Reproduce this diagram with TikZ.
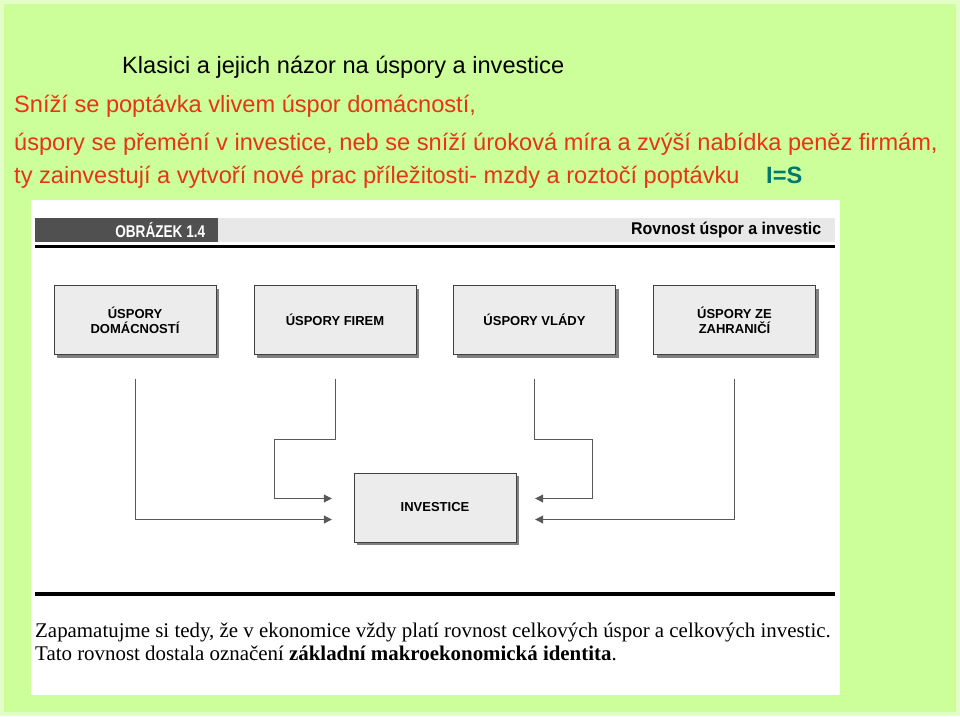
\documentclass[tikz,border=0pt]{standalone}
\usepackage{fontspec}
\setmainfont{Liberation Serif}
\setsansfont{Liberation Sans}
\usetikzlibrary{positioning, arrows.meta, calc, shadows}
\definecolor{SlGreen}{RGB}{204,255,153}
\definecolor{SlEdge}{RGB}{226,255,200}
\definecolor{SlRed}{RGB}{232,52,22}
\definecolor{SlTeal}{RGB}{0,120,110}
\definecolor{BxGray}{RGB}{236,236,236}
\definecolor{BdDark}{RGB}{80,80,80}
\definecolor{BdLight}{RGB}{232,232,232}

\begin{document}
\begin{tikzpicture}[x=1pt, y=1pt,
          sbox/.style={rectangle, draw=black!75, fill=BxGray, minimum width=162pt,
                       minimum height=69pt, inner sep=0pt, align=center,
                       font=\sffamily\bfseries\fontsize{13}{15}\selectfont,
                       drop shadow={shadow xshift=3pt, shadow yshift=-3pt,
                                    fill=black!50, opacity=1}},
          conn/.style={draw=black!65, line width=1pt},
          arr/.style={conn, -{Triangle[length=8pt, width=8pt]}},
          slide/.style={anchor=base west, inner sep=0pt,
                        font=\sffamily\fontsize{23.6}{28}\selectfont},
          book/.style={anchor=base west, inner sep=0pt,
                       font=\fontsize{20.9}{25}\selectfont}
        ]
        % slide background and picture panel
        \useasboundingbox (0,0) rectangle (960,716);
        \fill[SlEdge] (0,0) rectangle (960,716);
        \fill[SlGreen] (4,4) rectangle (956,712);
        \fill[white] (31,21) rectangle (840,516);

        % slide texts
        \node[slide] (ttl) at (122,642) {Klasici a jejich názor na úspory a investice};
        \node[slide, text=SlRed] (r1) at (14,603) {Sníží se poptávka vlivem úspor domácností,};
        \node[slide, text=SlRed] (r2) at (14,565)
              {úspory se přemění v investice, neb se sníží úroková míra a zvýší nabídka peněz firmám,};
        \node[slide, text=SlRed] (r3) at (14,532)
              {ty zainvestují a vytvoří nové prac příležitosti- mzdy a roztočí poptávku};
        \node[slide, text=SlTeal, font=\sffamily\bfseries\fontsize{23.6}{28}\selectfont]
              (is) at (766,532) {I=S};

        % figure header
        \node[fill=BdLight, minimum width=800pt, minimum height=24pt, inner sep=0pt,
              anchor=north west] (band) at (35,498) {};
        \node[fill=BdDark, minimum width=183pt, minimum height=24pt, inner sep=0pt,
              anchor=north west] (fig) at (35,498) {};
        \node[anchor=east, text=white, inner sep=0pt, xscale=0.8,
              font=\sffamily\bfseries\fontsize{17}{19}\selectfont]
              at ($(fig.east)+(-13,0)$) {OBRÁZEK 1.4};
        \node[anchor=east, inner sep=0pt, xscale=0.94,
              font=\sffamily\bfseries\fontsize{17}{19}\selectfont]
              at ($(band.east)+(-14,0)$) {Rovnost úspor a investic};
        \draw[line width=3pt] (35,469) -- (835,469);

        % savings boxes
        \node[sbox] (dom) at (135,396) {ÚSPORY\\DOMÁCNOSTÍ};
        \node[sbox] (fir) at (335,396) {ÚSPORY FIREM};
        \node[sbox] (vla) at (534.5,396) {ÚSPORY VLÁDY};
        \node[sbox] (zah) at (734.5,396) {ÚSPORY ZE\\ZAHRANIČÍ};

        % investment box
        \node[sbox] (inv) at (435,208.5) {INVESTICE};

        % line ends
        \coordinate (d1) at ($(dom.south)+(0,-24)$);
        \coordinate (d2) at ($(fir.south)+(0,-24)$);
        \coordinate (d3) at ($(vla.south)+(0,-24)$);
        \coordinate (d4) at ($(zah.south)+(0,-24)$);
        \coordinate (il1) at ($(inv.west)+(-22,9)$);
        \coordinate (il2) at ($(inv.west)+(-22,-12)$);
        \coordinate (ir1) at ($(inv.east)+(19,9)$);
        \coordinate (ir2) at ($(inv.east)+(19,-12)$);

        \draw[arr] (d1) |- (il2);
        \draw[arr] (d2) |- ($(d2)+(-61,-61)$) |- (il1);
        \draw[arr] (d3) |- ($(d3)+(58,-61)$) |- (ir1);
        \draw[arr] (d4) |- (ir2);

        % bottom text
        \draw[line width=3.5pt] (35,122) -- (835,122);
        \node[book] (t1) at (35,79)
              {Zapamatujme si tedy, že v ekonomice vždy platí rovnost celkových úspor a celkových investic.};
        \node[book] (t2) at (35,56)
              {Tato rovnost dostala označení \textbf{základní makroekonomická identita}.};
      \end{tikzpicture}
\end{document}
